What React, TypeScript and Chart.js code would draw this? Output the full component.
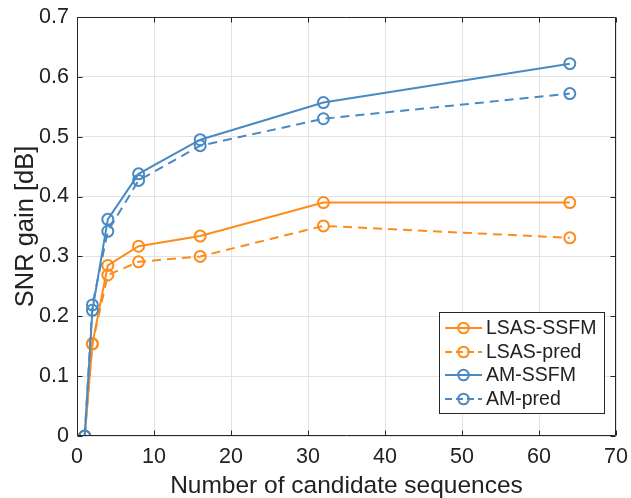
import React, { useEffect, useRef } from 'react';
import { Chart, registerables } from 'chart.js';

Chart.register(...registerables);

const xValues = [1, 2, 4, 8, 16, 32, 64];
const lsasSsfm = [0, 0.154, 0.285, 0.317, 0.334, 0.39, 0.39];
const lsasPred = [0, 0.154, 0.269, 0.291, 0.3, 0.351, 0.331];
const amSsfm = [0, 0.21, 0.362, 0.438, 0.495, 0.557, 0.622];
const amPred = [0, 0.219, 0.342, 0.427, 0.485, 0.53, 0.572];
const seriesNames = ['LSAS-SSFM', 'LSAS-pred', 'AM-SSFM', 'AM-pred'];
const xTickValues = [0, 10, 20, 30, 40, 50, 60, 70];
const yTickValues = [0, 0.1, 0.2, 0.3, 0.4, 0.5, 0.6, 0.7];

const ORANGE = '#ff8c1a';
const BLUE = '#4a8ac4';
const AXIS = '#222222';
const FONT = '"Liberation Sans", Arial, Helvetica, sans-serif';
const DASH = [9, 6];

const toPts = (ys: number[]) => xValues.map((x, i) => ({ x, y: ys[i] }));

const seriesStyles = [
  { color: ORANGE, dash: [] as number[] },
  { color: ORANGE, dash: DASH },
  { color: BLUE, dash: [] as number[] },
  { color: BLUE, dash: DASH },
];

const frameAndLegend = {
  id: 'frameAndLegend',
  afterDatasetsDraw(chart: any) {
    const { ctx, chartArea: a, scales } = chart;
    const xs = scales.x;
    const ys = scales.y;
    ctx.save();
    ctx.strokeStyle = '#262626';
    ctx.lineWidth = 1;
    ctx.setLineDash([]);
    const L = Math.round(a.left) + 0.5;
    const R = Math.round(a.right) - 0.5;
    const T = Math.round(a.top) + 0.5;
    const B = Math.round(a.bottom) - 0.5;
    ctx.beginPath();
    ctx.rect(L, T, R - L, B - T);
    const tl = 5;
    xTickValues.forEach((v) => {
      const px = Math.round(xs.getPixelForValue(v)) + 0.5;
      ctx.moveTo(px, B);
      ctx.lineTo(px, B - tl);
      ctx.moveTo(px, T);
      ctx.lineTo(px, T + tl);
    });
    yTickValues.forEach((v) => {
      const py = Math.round(ys.getPixelForValue(v)) + 0.5;
      ctx.moveTo(L, py);
      ctx.lineTo(L + tl, py);
      ctx.moveTo(R, py);
      ctx.lineTo(R - tl, py);
    });
    ctx.stroke();

    // legend box
    const bx = 439.5, by = 312.5, bw = 165, bh = 101;
    ctx.fillStyle = '#ffffff';
    ctx.fillRect(bx, by, bw, bh);
    ctx.strokeStyle = '#262626';
    ctx.strokeRect(bx, by, bw, bh);
    ctx.font = `19.5px ${FONT}`;
    ctx.textBaseline = 'middle';
    ctx.textAlign = 'left';
    const rowY = [328, 352, 375, 399];
    seriesNames.forEach((name, i) => {
      const st = seriesStyles[i];
      const y = rowY[i];
      ctx.strokeStyle = st.color;
      ctx.lineWidth = 2;
      ctx.setLineDash(st.dash.length ? [7, 4] : []);
      ctx.beginPath();
      ctx.moveTo(445, y);
      ctx.lineTo(482, y);
      ctx.stroke();
      ctx.setLineDash([]);
      ctx.beginPath();
      ctx.arc(463.5, y, 5.3, 0, Math.PI * 2);
      ctx.stroke();
      ctx.fillStyle = AXIS;
      ctx.fillText(name, 486, y + 1);
    });
    ctx.restore();
  },
};

export default function App() {
  const ref = useRef<HTMLCanvasElement | null>(null);
  useEffect(() => {
    if (!ref.current) return;
    const datasets = [lsasSsfm, lsasPred, amSsfm, amPred].map((ys, i) => ({
      label: seriesNames[i],
      data: toPts(ys),
      borderColor: seriesStyles[i].color,
      backgroundColor: 'rgba(0,0,0,0)',
      borderWidth: 2,
      borderDash: seriesStyles[i].dash,
      pointStyle: 'circle',
      pointRadius: 5.5,
      pointBorderWidth: 2,
      pointBorderColor: seriesStyles[i].color,
      pointBackgroundColor: 'rgba(0,0,0,0)',
      tension: 0,
      fill: false,
      order: 4 - i,
    }));
    const chart = new Chart(ref.current, {
      type: 'line',
      data: { datasets },
      plugins: [frameAndLegend],
      options: {
        animation: false,
        responsive: false,
        devicePixelRatio: 1,
        layout: { padding: { top: 17, right: 15, left: 0, bottom: 0 } },
        plugins: { legend: { display: false }, tooltip: { enabled: false } },
        scales: {
          x: {
            type: 'linear',
            min: 0,
            max: 70,
            afterFit: (s: any) => { s.height = 62; s.paddingLeft = 0; s.paddingRight = 15; },
            afterBuildTicks: (s: any) => { s.ticks = xTickValues.map((v) => ({ value: v })); },
            ticks: { color: AXIS, font: { family: FONT, size: 21.5 }, padding: 8, maxRotation: 0, autoSkip: false },
            grid: { color: '#e3e3e3', drawTicks: false, lineWidth: 1 },
            border: { display: false },
            title: { display: true, text: 'Number of candidate sequences', color: AXIS, font: { family: FONT, size: 24.5, lineHeight: 1 }, padding: 0 },
          },
          y: {
            type: 'linear',
            min: 0,
            max: 0.7,
            afterFit: (s: any) => { s.width = 77; s.paddingTop = 17; s.paddingBottom = 0; },
            afterBuildTicks: (s: any) => { s.ticks = yTickValues.map((v) => ({ value: v })); },
            ticks: { color: AXIS, font: { family: FONT, size: 21.5 }, padding: 8, autoSkip: false, callback: (v: any) => String(Math.round(Number(v) * 10) / 10) },
            grid: { color: '#e3e3e3', drawTicks: false, lineWidth: 1 },
            border: { display: false },
            title: { display: true, text: 'SNR gain [dB]', color: AXIS, font: { family: FONT, size: 25.5, lineHeight: 1 }, padding: { top: 13, bottom: 0 } },
          },
        },
      },
    } as any);
    return () => chart.destroy();
  }, []);
  return (
    <div style={{ position: 'absolute', left: 0, top: 0, width: 631, height: 498, background: '#ffffff' }}>
      <canvas ref={ref} width={631} height={498} style={{ display: 'block', width: 631, height: 498 }} />
    </div>
  );
}
